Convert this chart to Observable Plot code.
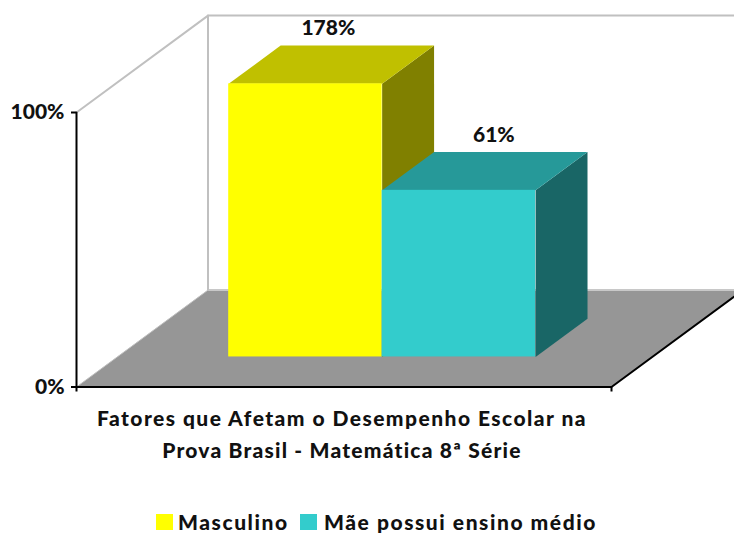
<!DOCTYPE html>
<html><head><meta charset="utf-8">
<script src="https://cdn.jsdelivr.net/npm/d3@7"></script>
<script src="https://cdn.jsdelivr.net/npm/@observablehq/plot@0.6"></script>
<style>
html,body{margin:0;padding:0;background:#fff;width:734px;height:533px;overflow:hidden}
#chart svg{display:block;overflow:hidden}
.t{font-family:Lato,"Open Sans",sans-serif;font-weight:900;color:#111;font-size:21px;}
#title{width:684px;text-align:center;line-height:32px;margin-top:2px;letter-spacing:1.45px;white-space:nowrap}
#title .l2{letter-spacing:1.2px}
#legend{position:absolute;left:0;top:511px;width:734px;height:22px;letter-spacing:1.55px}
#legend span{position:absolute;top:0;line-height:22px;white-space:nowrap}
#legend i{position:absolute;top:3px;width:17px;height:16px}
</style></head><body>
<div id="chart"></div>
<div id="title" class="t">Fatores que Afetam o Desempenho Escolar na<br><span class="l2">Prova Brasil - Matemática 8ª Série</span></div>
<div id="legend" class="t"></div>
<script>
const categories = ["Masculino", "Mãe possui ensino médio"];
const labels = [178, 61];
const drawnHeights = [99.5, 60.7];      // the 178% bar is cut at the axis maximum
const frontColors = ["#FFFF00", "#33CCCC"];
const topColors = ["#C0C000", "#269999"];
const sideColors = ["#808000", "#196666"];
const yTicks = [0, 100];

// Oblique projection, in scale units: one full depth moves right and up.
const shiftX = 0.2458, shiftY = 35.3;
const barLeft = 0.2083, barWidth = 0.2868, depthFront = 0.31, depthBack = 0.705;
const at = (x, v, d) => ({x: x + d * shiftX, y: v + d * shiftY});
const poly = (pts, fill) => Plot.line(pts, {x: "x", y: "y", fill, stroke: "none", curve: "linear-closed"});
const path = (pts, stroke, strokeWidth = 2) => Plot.line(pts, {x: "x", y: "y", stroke, strokeWidth});

const marks = [
  poly([at(0,0,0), at(1,0,0), at(1,0,1), at(0,0,1)], "#969696"),
  path([at(0,0,1), at(1,0,1)], "#c8c8c8"),
  path([at(0,0,0), at(0,0,1)], "#c0c0c0", 1),
  path([at(0,100,0), at(0,100,1), at(0,0,1)], "#c0c0c0"),
  path([at(0,100,1), at(1.2,100,1)], "#c0c0c0"),
];
categories.forEach((c, i) => {
  const l = barLeft + i * barWidth, r = l + barWidth, h = drawnHeights[i];
  marks.push(
    poly([at(r,0,depthFront), at(r,h,depthFront), at(r,h,depthBack), at(r,0,depthBack)], sideColors[i]),
    poly([at(l,h,depthFront), at(r,h,depthFront), at(r,h,depthBack), at(l,h,depthBack)], topColors[i]),
    Plot.rect([{...at(l,0,depthFront), x2: at(r,0,depthFront).x, y2: at(r,h,depthFront).y}],
      {x1: "x", x2: "x2", y1: "y", y2: "y2", fill: frontColors[i], inset: 0})
  );
});
categories.forEach((c, i) => {
  const l = barLeft + i * barWidth, p = at(l + barWidth / 2, drawnHeights[i], depthBack);
  marks.push(Plot.text([p], {x: "x", y: "y", text: () => labels[i] + "%", dy: -17, dx: i ? -17 : -29,
    fontSize: 21, fontWeight: 900, fontFamily: "Lato", fill: "#111"}));
});
marks.push(
  path([at(0,100,0), at(0,0,0), at(1,0,0), at(1,0,1)], "black"),
  Plot.axisY(yTicks.map(Number), {anchor: "left", tickSize: 5, tickPadding: 7, strokeWidth: 2, stroke: "black",
    label: null, tickFormat: d => d + "%", fontSize: 21, fontWeight: 900, fontFamily: "Lato", fill: "#111"}),
  Plot.axisX([0, 1], {anchor: "bottom", tickSize: 5, strokeWidth: 2, stroke: "black", label: null, tickFormat: () => ""})
);

const svgH = 400, x0 = 76, x1 = 611, y0 = 386.5, y100 = 112;
const plot = Plot.plot({
  width: 734, height: svgH,
  marginLeft: x0, marginRight: 0, marginTop: 2, marginBottom: svgH - y0,
  x: {domain: [0, (734 - x0) / (x1 - x0)], axis: null},
  y: {domain: [0, (y0 - 2) / ((y0 - y100) / 100)], axis: null},
  style: {background: "transparent"},
  marks
});
document.getElementById("chart").appendChild(plot);

const legend = document.getElementById("legend");
[[156, 178], [300, 324]].forEach(([sx, tx], i) => {
  const sw = document.createElement("i");
  sw.style.left = sx + "px"; sw.style.background = frontColors[i];
  const t = document.createElement("span");
  t.style.left = tx + "px"; t.textContent = categories[i];
  legend.append(sw, t);
});
</script></body></html>
